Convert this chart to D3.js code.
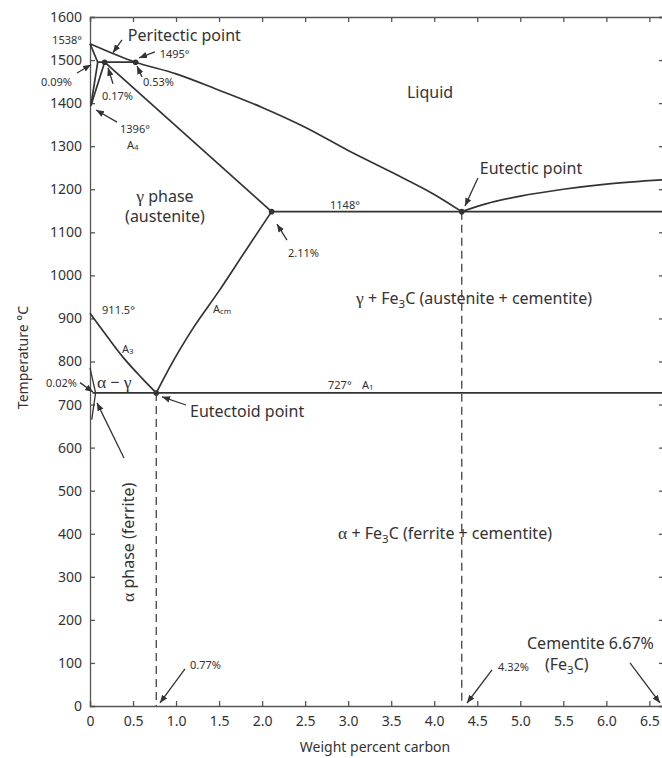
<!DOCTYPE html>
<html><head><meta charset="utf-8">
<script src="https://cdn.jsdelivr.net/npm/d3@7"></script>
<style>
html,body{margin:0;padding:0;background:#fff;}
svg{display:block;font-family:"Noto Sans","Open Sans",sans-serif;}
</style></head>
<body><svg id="chart" width="662" height="758"></svg>
<script>
// ---------- data (x = weight % carbon, y = temperature °C) ----------
const xTicks = [0,0.5,1.0,1.5,2.0,2.5,3.0,3.5,4.0,4.5,5.0,5.5,6.0,6.5];
const xTickLabels = ["0","0.5","1.0","1.5","2.0","2.5","3.0","3.5","4.0","4.5","5.0","5.5","6.0","6.5"];
const yTicks = [0,100,200,300,400,500,600,700,800,900,1000,1100,1200,1300,1400,1500,1600];

const liquidusLeft = [[0,1538],[0.53,1495],[1.0,1468],[1.5,1430],[2.0,1390],[2.5,1344],[3.0,1290],[3.5,1240],[4.0,1188],[4.32,1148]];
const liquidusRight = [[4.32,1148],[4.6,1166],[5.0,1184],[5.5,1200],[6.0,1212],[6.67,1222]];
const gammaSolidus = [[0.17,1495],[2.11,1148]];
const deltaSolidus = [[0,1538],[0.09,1495]];
const deltaGammaA = [[0.09,1495],[0.01,1394]];
const deltaGammaB = [[0.17,1495],[0.01,1394]];
const acmLine = [[0.77,727],[0.95,795],[1.2,878],[1.5,964],[1.8,1055],[2.11,1148]];
const a3Line = [[0,912],[0.2,858],[0.4,806],[0.6,762],[0.77,727]];
const alphaLine = [[0,785],[0.065,727],[0.02,665]];
const peritecticIso = [[0.09,1495],[0.53,1495]];
const eutecticIso = [[2.11,1148],[6.67,1148]];
const eutectoidIso = [[0.03,727],[6.67,727]];
const dashedLines = [[[0.77,727],[0.77,0]],[[4.32,1148],[4.32,0]]];
const points = [[0.17,1495],[0.53,1495],[2.11,1148],[4.32,1148],[0.77,727]];

// arrows: [tailX, tailT, headX, headT]
const arrows = [
  [0.372,1547,0.267,1517],
  [0.755,1519,0.57,1505],
  [-0.151,1470,0.012,1489],
  [0.604,1461,0.546,1486],
  [0.267,1445,0.209,1482],
  [0.314,1356,0.07,1384],
  [4.508,1226,4.357,1161],
  [2.289,1082,2.173,1119],
  [-0.116,751,0.035,729],
  [1.116,699,0.837,718],
  [0.395,576,0.081,704],
  [1.104,86,0.813,7],
  [4.671,84,4.381,7],
  [6.275,100,6.623,7]
];

// labels: [text, x, T, anchor, size("big"|"small"), rotate]
const labels = [
  ["Peritectic point",0.44,1558,"start","big",0],
  ["1538°",-0.093,1549,"end","small",0],
  ["1495°",0.81,1516,"start","small",0],
  ["0.09%",-0.209,1452,"end","small",0],
  ["0.53%",0.616,1452,"start","small",0],
  ["0.17%",0.139,1419,"start","small",0],
  ["1396°",0.349,1342,"start","small",0],
  ["A_{4}",0.43,1305,"start","small",0],
  ["Liquid",3.951,1426,"middle","big",0],
  ["Eutectic point",4.53,1250,"start","big",0],
  ["1148°",2.789,1166,"start","small",0],
  ["2.11%",2.30,1054,"start","small",0],
  ["γ phase",0.871,1184,"middle","big",0],
  ["(austenite)",0.871,1138,"middle","big",0],
  ["911.5°",0.14,922,"start","small",0],
  ["A_{cm}",1.429,924,"start","small",0],
  ["A_{3}",0.372,831,"start","small",0],
  ["γ + Fe_{3}C (austenite + cementite)",4.462,947,"middle","big",0],
  ["0.02%",-0.151,752,"end","small",0],
  ["α − γ",0.081,752,"start","big",0],
  ["727°",2.766,748,"start","small",0],
  ["A_{1}",3.16,748,"start","small",0],
  ["Eutectoid point",1.162,684,"start","big",0],
  ["α phase (ferrite)",0.442,380,"middle","big",-90],
  ["α + Fe_{3}C (ferrite + cementite)",4.125,402,"middle","big",0],
  ["0.77%",1.162,98,"start","small",0],
  ["4.32%",4.741,93,"start","small",0],
  ["Cementite 6.67%",5.078,147,"start","big",0],
  ["(Fe_{3}C)",5.287,98,"start","big",0]
];

// ---------- drawing ----------
const svg = d3.select("#chart");
const x = d3.scaleLinear().domain([0,6.67]).range([90,664]);
const y = d3.scaleLinear().domain([0,1600]).range([706,17]);
const ink = "#333";

svg.append("defs").append("marker")
  .attr("id","ah").attr("viewBox","0 0 10 10").attr("refX",10).attr("refY",5)
  .attr("markerWidth",8).attr("markerHeight",8).attr("markerUnits","userSpaceOnUse")
  .attr("orient","auto")
  .append("path").attr("d","M0,1 L10,5 L0,9 Z").attr("fill",ink);

// axes (inward ticks on all sides)
const axCol = "#555";
const gL = svg.append("g").attr("transform",`translate(${x(0)},0)`)
  .call(d3.axisLeft(y).tickValues(yTicks).tickFormat(d3.format("d")).tickSize(-5).tickPadding(8));
const gB = svg.append("g").attr("transform",`translate(0,${y(0)})`)
  .call(d3.axisBottom(x).tickValues(xTicks).tickFormat((d,i)=>xTickLabels[i]).tickSize(-5).tickPadding(10));
const gT = svg.append("g").attr("transform",`translate(0,${y(1600)})`)
  .call(d3.axisTop(x).tickValues(xTicks).tickFormat("").tickSize(-5));
const gR = svg.append("g").attr("transform",`translate(${x(6.67)},0)`)
  .call(d3.axisRight(y).tickValues(yTicks).tickFormat("").tickSize(-5));
[gL,gB,gT,gR].forEach(g=>{
  g.select(".domain").attr("stroke",axCol).attr("stroke-width",1.3);
  g.selectAll(".tick line").attr("stroke",axCol).attr("stroke-width",1.3);
  g.selectAll(".tick text").attr("fill","#333").attr("font-size",14)
    .attr("font-family","'Noto Sans','Open Sans',sans-serif");
});

svg.append("text").attr("x",(x(0)+x(6.67))/2-2).attr("y",752).attr("text-anchor","middle")
  .attr("font-size",14).attr("fill","#333").text("Weight percent carbon");
svg.append("text").attr("transform",`translate(22,${(y(0)+y(1600))/2-4}) rotate(-90)`)
  .attr("text-anchor","middle").attr("dominant-baseline","central")
  .attr("font-size",14).attr("fill","#333").text("Temperature °C");

// curves
const lineSmooth = d3.line().x(d=>x(d[0])).y(d=>y(d[1])).curve(d3.curveMonotoneX);
const lineStraight = d3.line().x(d=>x(d[0])).y(d=>y(d[1]));
const curves = svg.append("g").attr("fill","none").attr("stroke",ink).attr("stroke-width",1.7)
  .attr("stroke-linejoin","round");
curves.append("path").attr("d",lineSmooth(liquidusLeft));
curves.append("path").attr("d",lineSmooth(liquidusRight));
[gammaSolidus,deltaSolidus,deltaGammaA,deltaGammaB,peritecticIso,eutecticIso,eutectoidIso]
  .forEach(s=>curves.append("path").attr("d",lineStraight(s)));
curves.append("path").attr("d",lineSmooth(acmLine));
curves.append("path").attr("d",lineSmooth(a3Line));
curves.append("path").attr("d",lineStraight(alphaLine)).attr("stroke-width",1.3);
dashedLines.forEach(s=>curves.append("path").attr("d",lineStraight(s))
  .attr("stroke-width",1.2).attr("stroke-dasharray","8,5"));

svg.append("g").selectAll("circle").data(points).join("circle")
  .attr("cx",d=>x(d[0])).attr("cy",d=>y(d[1])).attr("r",2.8).attr("fill",ink);

svg.append("g").selectAll("line").data(arrows).join("line")
  .attr("x1",d=>x(d[0])).attr("y1",d=>y(d[1])).attr("x2",d=>x(d[2])).attr("y2",d=>y(d[3]))
  .attr("stroke",ink).attr("stroke-width",1.3).attr("marker-end","url(#ah)");

// labels with _{sub} markup; Greek letters in a serif face
const lg = svg.append("g").attr("fill","#333");
const greekFont = "'Liberation Serif','DejaVu Serif',serif";
labels.forEach(([t,lx,lt,anchor,size,rot])=>{
  const fs = size==="big"?16:11;
  const txt = lg.append("text")
    .attr("transform",`translate(${x(lx)},${y(lt)}) rotate(${rot})`)
    .attr("text-anchor",anchor).attr("dominant-baseline","central")
    .attr("font-size",fs);
  const parts = t.split(/(_\{[^}]*\}|[αγ])/);
  let shifted = false;
  parts.forEach(p=>{
    if(!p) return;
    if(p.startsWith("_{")){
      txt.append("tspan").attr("font-size",fs*0.72).attr("dy",fs*0.3).text(p.slice(2,-1));
      shifted = true;
    } else {
      const ts = txt.append("tspan").text(p);
      if(shifted){ ts.attr("dy",-fs*0.3); shifted=false; }
      if(p==="α"||p==="γ") ts.attr("font-family",greekFont).attr("font-size",fs*1.1);
    }
  });
});
</script></body></html>
